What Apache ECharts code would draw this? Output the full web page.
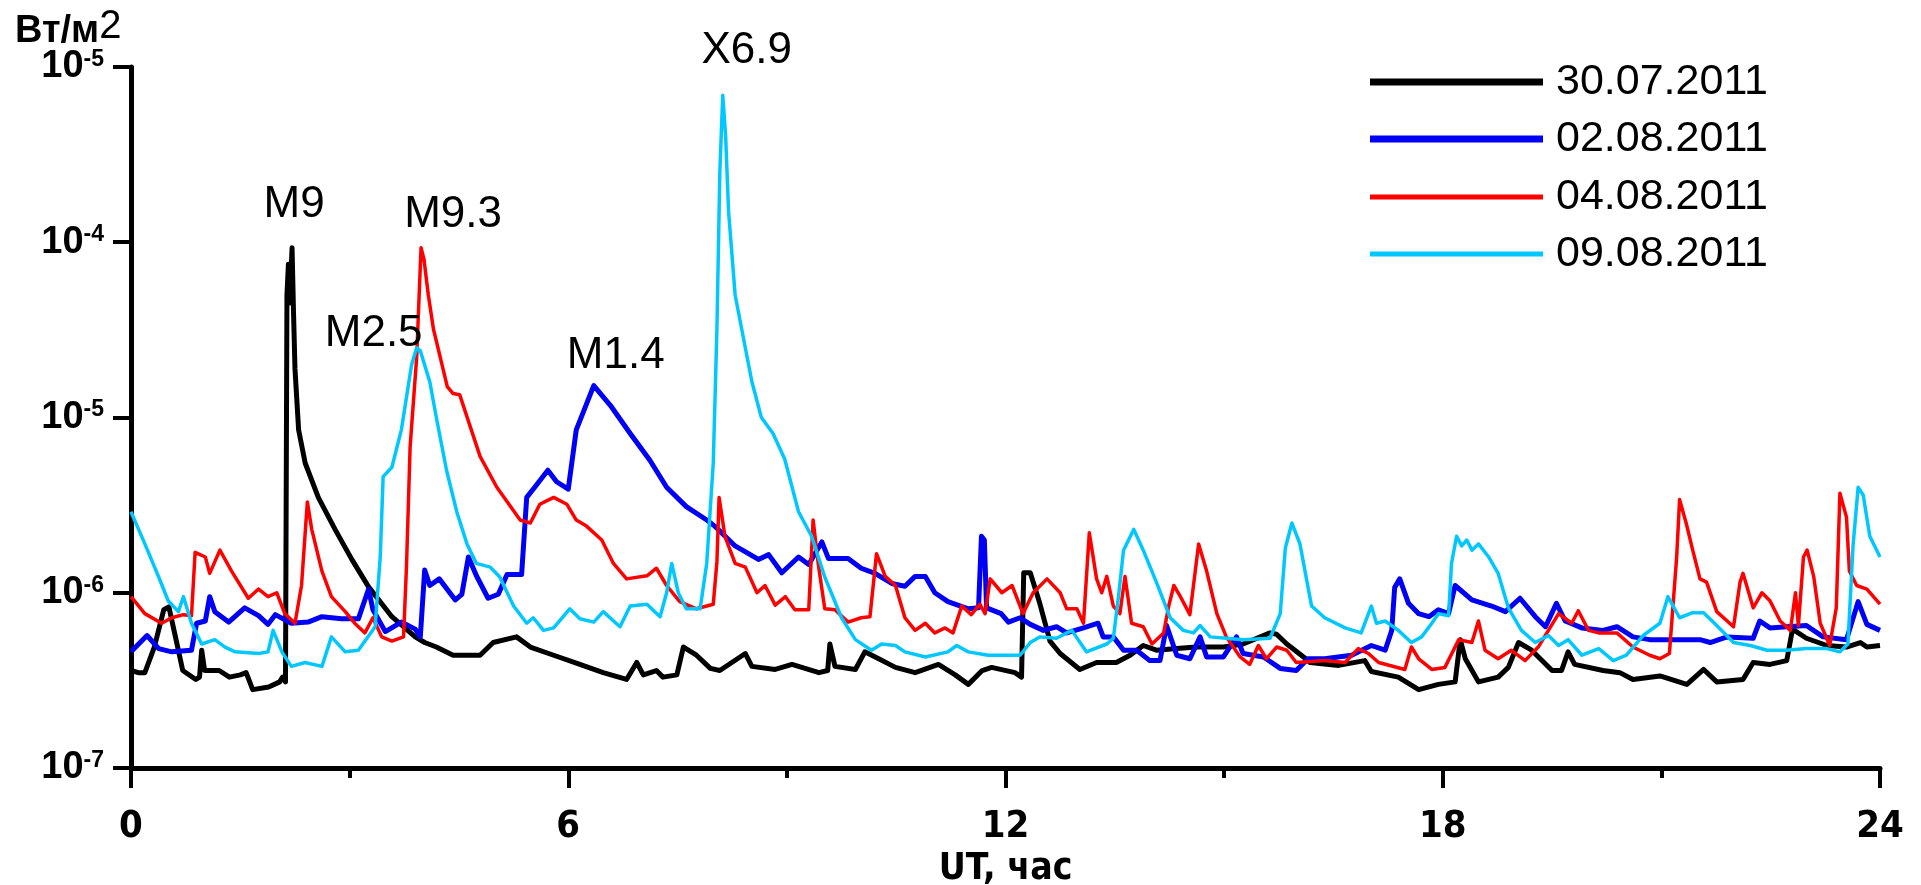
<!DOCTYPE html>
<html>
<head>
<meta charset="utf-8">
<script src="https://cdn.jsdelivr.net/npm/echarts@6/dist/echarts.min.js"></script>
<style>
html,body{margin:0;padding:0;background:#fff;}
#chart{width:1921px;height:885px;}
</style>
</head>
<body>
<div id="chart"></div>
<script>
// ---- data: [UT hour, flux W/m^2] ----
const seriesNames = ['30.07.2011', '02.08.2011', '04.08.2011', '09.08.2011'];

const data30_07 = [[0.00,3.6e-7],[0.10,3.5e-7],[0.19,3.5e-7],[0.32,4.9e-7],[0.45,8.0e-7],[0.52,8.3e-7],[0.61,5.6e-7],[0.71,3.6e-7],[0.89,3.2e-7],[0.94,3.3e-7],[0.97,4.7e-7],[1.01,3.6e-7],[1.21,3.6e-7],[1.35,3.3e-7],[1.50,3.4e-7],[1.58,3.5e-7],[1.67,2.8e-7],[1.89,2.9e-7],[2.04,3.1e-7],[2.08,3.3e-7],[2.12,3.1e-7],[2.14,5.0e-5],[2.16,7.5e-5],[2.18,4.5e-5],[2.21,9.3e-5],[2.23,4.0e-5],[2.25,1.9e-5],[2.30,8.5e-6],[2.39,5.5e-6],[2.57,3.5e-6],[2.80,2.3e-6],[3.03,1.55e-6],[3.26,1.08e-6],[3.58,7.3e-7],[3.90,5.6e-7],[4.03,5.2e-7],[4.19,4.9e-7],[4.42,4.4e-7],[4.79,4.4e-7],[4.97,5.2e-7],[5.29,5.6e-7],[5.48,4.9e-7],[5.80,4.4e-7],[6.16,3.9e-7],[6.48,3.5e-7],[6.80,3.2e-7],[6.94,4.0e-7],[7.03,3.4e-7],[7.21,3.6e-7],[7.30,3.3e-7],[7.49,3.4e-7],[7.58,4.9e-7],[7.76,4.4e-7],[7.95,3.7e-7],[8.08,3.6e-7],[8.43,4.5e-7],[8.52,3.8e-7],[8.84,3.65e-7],[9.07,3.9e-7],[9.44,3.5e-7],[9.56,3.6e-7],[9.59,5.1e-7],[9.66,3.8e-7],[9.94,3.65e-7],[10.07,4.6e-7],[10.26,4.2e-7],[10.49,3.75e-7],[10.76,3.5e-7],[11.08,3.9e-7],[11.31,3.4e-7],[11.49,3.0e-7],[11.68,3.6e-7],[11.81,3.75e-7],[12.13,3.5e-7],[12.22,3.3e-7],[12.25,1.3e-6],[12.34,1.3e-6],[12.47,8.7e-7],[12.61,5.3e-7],[12.75,4.5e-7],[13.02,3.65e-7],[13.25,4.0e-7],[13.52,4.0e-7],[13.71,4.4e-7],[13.89,5.0e-7],[14.07,4.7e-7],[14.35,4.8e-7],[14.62,4.9e-7],[14.99,4.9e-7],[15.26,5.1e-7],[15.63,5.9e-7],[15.72,5.8e-7],[15.86,5.1e-7],[16.09,4.3e-7],[16.18,4.0e-7],[16.57,3.85e-7],[16.93,4.1e-7],[17.02,3.55e-7],[17.39,3.3e-7],[17.67,2.8e-7],[17.94,3.0e-7],[18.17,3.1e-7],[18.24,5.4e-7],[18.31,4.2e-7],[18.49,3.1e-7],[18.76,3.3e-7],[18.90,3.75e-7],[19.04,5.2e-7],[19.22,4.7e-7],[19.50,3.6e-7],[19.63,3.6e-7],[19.72,4.6e-7],[19.81,3.9e-7],[20.20,3.6e-7],[20.43,3.5e-7],[20.61,3.2e-7],[20.98,3.35e-7],[21.35,3.0e-7],[21.58,3.65e-7],[21.76,3.1e-7],[22.12,3.2e-7],[22.26,4.0e-7],[22.49,3.9e-7],[22.72,4.1e-7],[22.80,6.2e-7],[22.99,5.5e-7],[23.27,5.0e-7],[23.54,4.9e-7],[23.73,5.2e-7],[23.82,4.9e-7],[24.00,5.0e-7]];

const data02_08 = [[0.00,4.6e-7],[0.22,5.7e-7],[0.38,4.8e-7],[0.56,4.6e-7],[0.83,4.7e-7],[0.90,6.7e-7],[1.02,6.9e-7],[1.08,9.5e-7],[1.15,7.8e-7],[1.34,6.8e-7],[1.56,8.2e-7],[1.75,7.4e-7],[1.88,6.6e-7],[1.98,7.5e-7],[2.20,6.7e-7],[2.43,6.8e-7],[2.62,7.3e-7],[2.89,7.1e-7],[3.12,7.1e-7],[3.26,1.05e-6],[3.32,8.0e-7],[3.49,6.0e-7],[3.71,6.8e-7],[3.90,6.2e-7],[3.97,5.6e-7],[4.03,1.35e-6],[4.10,1.1e-6],[4.23,1.2e-6],[4.45,9.1e-7],[4.54,9.8e-7],[4.63,1.6e-6],[4.74,1.25e-6],[4.90,9.3e-7],[5.04,9.8e-7],[5.16,1.27e-6],[5.36,1.27e-6],[5.43,3.5e-6],[5.54,4.0e-6],[5.72,5.0e-6],[5.84,4.3e-6],[6.00,3.9e-6],[6.11,8.5e-6],[6.35,1.52e-5],[6.58,1.17e-5],[6.85,8.1e-6],[7.12,5.7e-6],[7.35,4.0e-6],[7.62,3.1e-6],[7.90,2.6e-6],[8.01,2.4e-6],[8.29,1.85e-6],[8.61,1.55e-6],[8.75,1.65e-6],[8.93,1.3e-6],[9.16,1.6e-6],[9.30,1.45e-6],[9.48,1.95e-6],[9.57,1.57e-6],[9.84,1.57e-6],[10.02,1.38e-6],[10.21,1.29e-6],[10.44,1.13e-6],[10.62,1.09e-6],[10.76,1.24e-6],[10.90,1.24e-6],[11.03,1.0e-6],[11.21,8.9e-7],[11.49,8.1e-7],[11.63,8.2e-7],[11.67,2.1e-6],[11.71,2.0e-6],[11.74,8.2e-7],[11.94,7.6e-7],[12.04,6.8e-7],[12.20,7.2e-7],[12.34,6.6e-7],[12.52,6.1e-7],[12.70,6.4e-7],[12.84,5.9e-7],[13.07,6.3e-7],[13.27,6.7e-7],[13.34,5.6e-7],[13.48,5.6e-7],[13.62,4.7e-7],[13.80,4.7e-7],[13.98,4.1e-7],[14.12,4.1e-7],[14.21,6.5e-7],[14.35,4.4e-7],[14.53,4.2e-7],[14.67,5.6e-7],[14.76,4.3e-7],[14.99,4.3e-7],[15.17,5.6e-7],[15.26,4.5e-7],[15.54,4.3e-7],[15.77,3.7e-7],[15.99,3.6e-7],[16.15,4.2e-7],[16.38,4.2e-7],[16.75,4.4e-7],[17.02,5.0e-7],[17.21,4.7e-7],[17.30,6.1e-7],[17.34,1.07e-6],[17.41,1.2e-6],[17.53,8.7e-7],[17.67,7.6e-7],[17.81,7.3e-7],[17.94,8.0e-7],[18.08,7.6e-7],[18.17,1.1e-6],[18.40,9.1e-7],[18.67,8.4e-7],[18.86,7.8e-7],[19.06,9.3e-7],[19.27,7.3e-7],[19.41,6.4e-7],[19.56,8.7e-7],[19.68,6.9e-7],[19.91,6.3e-7],[20.20,6.1e-7],[20.39,6.4e-7],[20.61,5.6e-7],[20.84,5.4e-7],[21.16,5.4e-7],[21.53,5.4e-7],[21.67,5.2e-7],[21.90,5.6e-7],[22.26,5.5e-7],[22.35,6.9e-7],[22.49,6.3e-7],[22.72,6.4e-7],[22.99,6.5e-7],[23.22,5.6e-7],[23.54,5.4e-7],[23.70,8.9e-7],[23.82,6.6e-7],[24.00,6.1e-7]];

const data04_08 = [[0.00,9.5e-7],[0.19,7.6e-7],[0.42,6.7e-7],[0.56,7.2e-7],[0.72,7.5e-7],[0.83,7.4e-7],[0.88,1.7e-6],[1.02,1.6e-6],[1.08,1.29e-6],[1.22,1.75e-6],[1.38,1.33e-6],[1.61,9.3e-7],[1.75,1.05e-6],[1.88,9.5e-7],[2.00,1.0e-6],[2.11,7.6e-7],[2.25,6.7e-7],[2.34,1.1e-6],[2.42,3.3e-6],[2.48,2.3e-6],[2.62,1.33e-6],[2.75,9.5e-7],[2.94,7.8e-7],[3.07,6.7e-7],[3.21,5.9e-7],[3.32,7.2e-7],[3.44,5.6e-7],[3.58,5.3e-7],[3.74,5.6e-7],[3.78,1.4e-6],[3.83,6.8e-6],[3.92,2.2e-5],[3.98,9.3e-5],[4.02,8.0e-5],[4.08,5.0e-5],[4.15,3.2e-5],[4.34,1.5e-5],[4.42,1.37e-5],[4.51,1.35e-5],[4.79,6.0e-6],[5.02,4.0e-6],[5.34,2.6e-6],[5.48,2.5e-6],[5.61,3.2e-6],[5.80,3.5e-6],[5.98,3.2e-6],[6.11,2.6e-6],[6.25,2.4e-6],[6.46,2.0e-6],[6.62,1.47e-6],[6.80,1.2e-6],[7.08,1.25e-6],[7.21,1.38e-6],[7.35,1.1e-6],[7.53,8.9e-7],[7.76,8.1e-7],[7.99,8.6e-7],[8.04,1.5e-6],[8.07,3.5e-6],[8.15,2.1e-6],[8.29,1.47e-6],[8.43,1.4e-6],[8.59,1.0e-6],[8.70,1.1e-6],[8.84,8.5e-7],[8.98,9.5e-7],[9.11,8.0e-7],[9.30,8.0e-7],[9.36,2.6e-6],[9.43,1.47e-6],[9.52,8.1e-7],[9.66,8.0e-7],[9.84,6.8e-7],[10.02,7.2e-7],[10.14,7.3e-7],[10.23,1.67e-6],[10.35,1.24e-6],[10.49,1.1e-6],[10.62,7.2e-7],[10.76,6.1e-7],[10.90,6.7e-7],[11.03,5.9e-7],[11.17,6.3e-7],[11.28,5.9e-7],[11.40,8.4e-7],[11.53,7.5e-7],[11.65,8.6e-7],[11.72,7.6e-7],[11.79,1.2e-6],[11.95,1.0e-6],[12.09,1.1e-6],[12.24,7.6e-7],[12.38,1.0e-6],[12.57,1.2e-6],[12.75,1.0e-6],[12.84,8.1e-7],[12.98,8.1e-7],[13.07,6.7e-7],[13.15,2.2e-6],[13.25,1.2e-6],[13.32,1.0e-6],[13.39,1.24e-6],[13.48,8.4e-7],[13.57,7.6e-7],[13.64,1.24e-6],[13.73,6.7e-7],[13.89,6.4e-7],[14.01,5.1e-7],[14.17,5.9e-7],[14.24,8.4e-7],[14.31,1.1e-6],[14.40,9.5e-7],[14.53,7.5e-7],[14.65,1.9e-6],[14.76,1.33e-6],[14.90,7.6e-7],[15.03,5.6e-7],[15.22,4.3e-7],[15.35,3.9e-7],[15.47,5.0e-7],[15.58,4.2e-7],[15.72,4.9e-7],[15.86,4.7e-7],[15.99,4.0e-7],[16.38,4.1e-7],[16.66,4.0e-7],[16.84,4.8e-7],[16.98,4.5e-7],[17.12,4.0e-7],[17.48,3.65e-7],[17.57,4.9e-7],[17.67,4.2e-7],[17.85,3.65e-7],[18.03,3.75e-7],[18.22,5.4e-7],[18.40,5.2e-7],[18.49,6.9e-7],[18.58,4.7e-7],[18.76,4.2e-7],[18.94,4.7e-7],[19.13,4.1e-7],[19.31,4.9e-7],[19.45,6.1e-7],[19.59,7.6e-7],[19.77,6.7e-7],[19.86,7.9e-7],[20.00,6.1e-7],[20.14,5.9e-7],[20.39,5.9e-7],[20.61,4.9e-7],[20.84,4.4e-7],[20.98,4.2e-7],[21.11,4.5e-7],[21.21,1.6e-6],[21.25,3.4e-6],[21.34,2.5e-6],[21.43,1.75e-6],[21.53,1.2e-6],[21.62,1.15e-6],[21.76,7.8e-7],[21.99,6.4e-7],[22.08,1.15e-6],[22.12,1.29e-6],[22.26,8.2e-7],[22.38,1.0e-6],[22.49,9.0e-7],[22.63,6.9e-7],[22.77,6.1e-7],[22.84,1.0e-6],[22.88,6.5e-7],[22.95,1.6e-6],[23.00,1.75e-6],[23.09,1.24e-6],[23.18,6.7e-7],[23.31,5.0e-7],[23.40,8.2e-7],[23.45,3.7e-6],[23.54,2.7e-6],[23.58,1.33e-6],[23.68,1.1e-6],[23.82,1.05e-6],[24.00,8.6e-7]];

const data09_08 = [[0.00,2.9e-6],[0.19,1.9e-6],[0.38,1.23e-6],[0.51,9.0e-7],[0.65,7.8e-7],[0.72,9.5e-7],[0.83,6.7e-7],[0.97,5.1e-7],[1.15,5.4e-7],[1.29,4.9e-7],[1.43,4.6e-7],[1.75,4.5e-7],[1.88,4.6e-7],[1.95,6.1e-7],[2.07,4.6e-7],[2.20,3.8e-7],[2.39,4.0e-7],[2.62,3.8e-7],[2.75,5.6e-7],[2.94,4.6e-7],[3.12,4.7e-7],[3.35,6.4e-7],[3.42,1.6e-6],[3.46,4.6e-6],[3.58,5.2e-6],[3.71,8.5e-6],[3.85,2.0e-5],[3.92,2.5e-5],[3.97,2.4e-5],[4.10,1.6e-5],[4.19,1.0e-5],[4.33,5.0e-6],[4.47,2.9e-6],[4.61,1.9e-6],[4.74,1.47e-6],[4.93,1.4e-6],[5.06,1.23e-6],[5.25,8.4e-7],[5.43,6.7e-7],[5.52,7.2e-7],[5.66,6.1e-7],[5.80,6.3e-7],[6.02,8.1e-7],[6.16,7.1e-7],[6.35,6.8e-7],[6.48,7.8e-7],[6.71,6.4e-7],[6.85,8.4e-7],[7.08,8.6e-7],[7.26,7.3e-7],[7.35,1.0e-6],[7.42,1.47e-6],[7.51,1.0e-6],[7.62,8.1e-7],[7.81,8.1e-7],[7.90,1.47e-6],[7.99,5.5e-6],[8.04,3.2e-5],[8.08,2.5e-4],[8.12,6.9e-4],[8.16,4.0e-4],[8.20,1.5e-4],[8.29,5.0e-5],[8.38,3.2e-5],[8.52,1.6e-5],[8.65,1.0e-5],[8.81,8.1e-6],[8.97,5.8e-6],[9.16,2.9e-6],[9.34,2.1e-6],[9.52,1.23e-6],[9.75,7.2e-7],[9.94,5.4e-7],[10.16,4.7e-7],[10.30,5.1e-7],[10.49,5.0e-7],[10.62,4.6e-7],[10.90,4.3e-7],[11.21,4.6e-7],[11.33,5.0e-7],[11.49,4.6e-7],[11.76,4.4e-7],[12.20,4.4e-7],[12.34,5.2e-7],[12.47,5.6e-7],[12.70,5.5e-7],[12.91,6.1e-7],[13.11,4.6e-7],[13.39,5.1e-7],[13.48,5.5e-7],[13.55,9.5e-7],[13.62,1.75e-6],[13.76,2.3e-6],[13.89,1.75e-6],[14.07,1.15e-6],[14.26,7.2e-7],[14.44,6.1e-7],[14.58,5.9e-7],[14.67,6.5e-7],[14.81,5.6e-7],[15.03,5.5e-7],[15.26,5.4e-7],[15.63,5.5e-7],[15.77,7.6e-7],[15.84,1.8e-6],[15.93,2.5e-6],[16.04,1.9e-6],[16.13,1.2e-6],[16.20,8.4e-7],[16.38,7.2e-7],[16.66,6.3e-7],[16.88,5.9e-7],[17.02,8.4e-7],[17.09,6.7e-7],[17.21,6.9e-7],[17.39,6.1e-7],[17.57,5.2e-7],[17.71,5.6e-7],[17.85,6.7e-7],[17.94,7.6e-7],[18.08,7.4e-7],[18.12,1.47e-6],[18.19,2.1e-6],[18.26,1.85e-6],[18.33,2.0e-6],[18.40,1.75e-6],[18.49,1.9e-6],[18.63,1.6e-6],[18.76,1.29e-6],[18.90,8.2e-7],[19.08,6.1e-7],[19.27,5.2e-7],[19.45,5.7e-7],[19.59,5.0e-7],[19.72,5.4e-7],[19.91,4.4e-7],[20.14,4.8e-7],[20.34,4.1e-7],[20.52,4.4e-7],[20.75,5.7e-7],[20.98,6.7e-7],[21.09,9.5e-7],[21.25,7.2e-7],[21.43,7.7e-7],[21.58,7.7e-7],[21.76,6.5e-7],[21.99,5.2e-7],[22.22,5.0e-7],[22.45,4.7e-7],[22.72,4.7e-7],[22.99,4.8e-7],[23.27,4.8e-7],[23.45,4.6e-7],[23.56,5.1e-7],[23.63,1.85e-6],[23.70,4.0e-6],[23.77,3.6e-6],[23.86,2.1e-6],[24.00,1.6e-6]];

// flare annotations
const flareLabels = ['M9', 'M9.3', 'M2.5', 'M1.4', 'X6.9'];
const flareHours  = [2.21, 3.98, 3.92, 6.35, 8.12];
const flareValues = [9.3e-5, 9.3e-5, 2.5e-5, 1.52e-5, 6.9e-4];

// axis tick labels
const xTicks = [0, 6, 12, 18, 24];
const yTickBase = '10';
const yTickExponents = ['-7', '-6', '-5', '-4', '-5'];
const xAxisTitle = 'UT, час';
const yAxisTitle = ['Вт/м', '2'];

// ---- styles (kept separate from data) ----
const colors = ['#000000', '#0000f5', '#ff0000', '#00c8ff'];
const lineWidths = [5, 5, 3.5, 3.5];
const legendIconHeights = [7, 7, 5, 5];
const legendCenters = [82, 139, 197, 254];
const flareOffsets = [[2, -43], [32, -33], [-43, -14], [22, -30], [24, -44]];
const narrowFont = 'DejaVu Sans Condensed, Liberation Sans Narrow, Arial, sans-serif';
const mainFont = 'Liberation Sans, Arial, sans-serif';

const allData = [data30_07, data02_08, data04_08, data09_08];

const chart = echarts.init(document.getElementById('chart'), null, {renderer: 'canvas'});

const series = seriesNames.map((name, i) => ({
  name: name,
  type: 'line',
  data: allData[i],
  showSymbol: false,
  symbol: 'none',
  lineStyle: {color: colors[i], width: lineWidths[i], join: 'round'},
  itemStyle: {color: colors[i]},
  z: 2 + i,
  silent: true
}));

series[3].markPoint = {
  symbol: 'circle',
  symbolSize: 0,
  silent: true,
  itemStyle: {color: 'rgba(0,0,0,0)'},
  label: {
    show: true,
    position: 'inside',
    formatter: '{b}',
    color: '#000',
    fontFamily: mainFont,
    fontSize: 44
  },
  data: flareLabels.map((lab, i) => ({
    name: lab,
    coord: [flareHours[i], flareValues[i]],
    label: {offset: flareOffsets[i]}
  }))
};

const legends = seriesNames.map((name, i) => ({
  data: [name],
  left: 1370,
  top: legendCenters[i] - 25,
  orient: 'vertical',
  icon: 'rect',
  itemWidth: 173,
  itemHeight: legendIconHeights[i],
  selectedMode: false,
  padding: 0,
  textStyle: {
    color: '#000',
    fontFamily: mainFont,
    fontSize: 43,
    lineHeight: 50,
    padding: [0, 0, 0, 8]
  }
}));

const option = {
  animation: false,
  backgroundColor: '#ffffff',
  grid: {left: 131, right: 41, top: 67, bottom: 117, containLabel: false, outerBoundsMode: 'none'},
  legend: legends,
  graphic: [{
    type: 'text',
    x: 15,
    y: 7,
    silent: true,
    style: {
      text: '{a|' + yAxisTitle[0] + '}{b|' + yAxisTitle[1] + '}',
      align: 'left',
      verticalAlign: 'top',
      rich: {
        a: {fontFamily: mainFont, fontWeight: 'bold', fontSize: 38, fill: '#000', color: '#000', lineHeight: 44, verticalAlign: 'bottom'},
        b: {fontFamily: mainFont, fontSize: 40, fill: '#000', color: '#000', lineHeight: 36, verticalAlign: 'top'}
      }
    }
  }],
  xAxis: {
    type: 'value',
    min: 0,
    max: 24,
    interval: 6,
    name: xAxisTitle,
    nameLocation: 'middle',
    nameGap: 82,
    nameTextStyle: {
      color: '#000',
      fontFamily: narrowFont,
      fontWeight: 'bold',
      fontSize: 37
    },
    axisLine: {show: true, onZero: false, lineStyle: {color: '#000', width: 5}},
    axisTick: {show: true, inside: false, length: 20, lineStyle: {color: '#000', width: 4}},
    minorTick: {show: true, splitNumber: 2, length: 10, lineStyle: {color: '#000', width: 4}},
    splitLine: {show: false},
    axisLabel: {
      margin: 40,
      color: '#000',
      fontFamily: narrowFont,
      fontWeight: 'bold',
      fontSize: 38,
      formatter: v => (xTicks.indexOf(v) >= 0 ? String(v) : '')
    }
  },
  yAxis: {
    type: 'log',
    logBase: 10,
    min: 1e-7,
    max: 1e-3,
    axisLine: {show: true, lineStyle: {color: '#000', width: 5}},
    axisTick: {show: true, inside: false, length: 18, lineStyle: {color: '#000', width: 4}},
    minorTick: {show: false},
    splitLine: {show: false},
    axisLabel: {
      margin: 27,
      formatter: function (v) {
        const idx = Math.round(Math.log10(v)) + 7;
        const ex = yTickExponents[idx] !== undefined ? yTickExponents[idx] : '';
        return '{b|' + yTickBase + '}{s|' + ex + '}';
      },
      rich: {
        b: {fontFamily: mainFont, fontWeight: 'bold', fontSize: 38, color: '#000', lineHeight: 38, verticalAlign: 'bottom'},
        s: {fontFamily: mainFont, fontWeight: 'bold', fontSize: 23, color: '#000', lineHeight: 24, verticalAlign: 'top'}
      }
    }
  },
  series: series
};

chart.setOption(option);
</script>
</body>
</html>
